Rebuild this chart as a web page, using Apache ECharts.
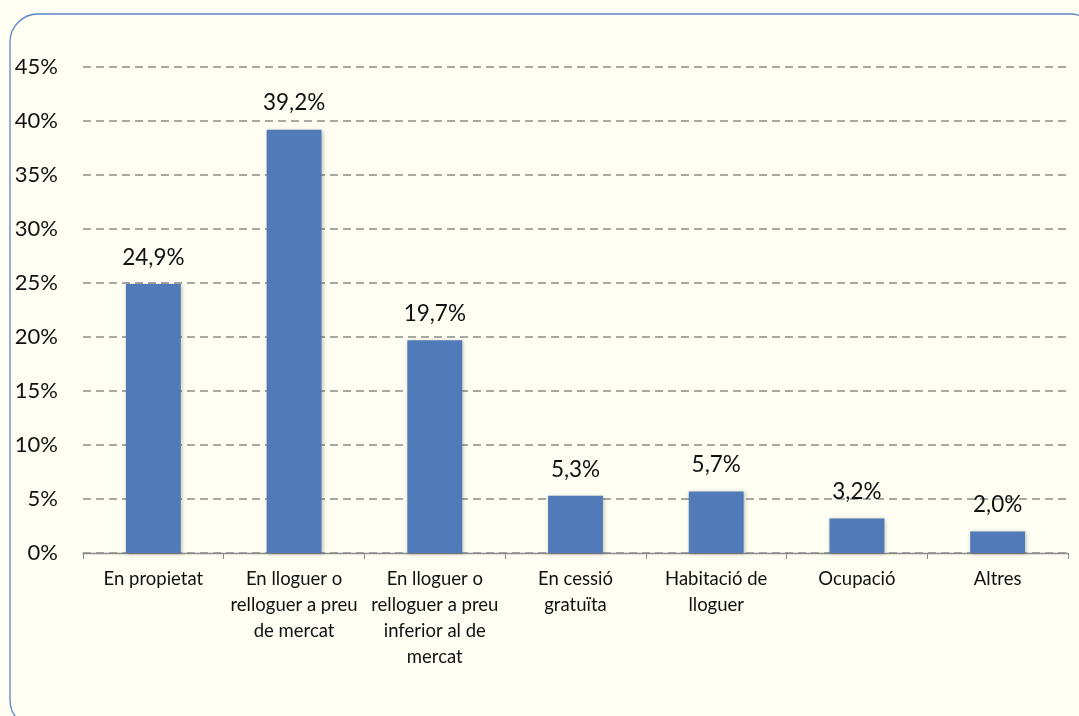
<!DOCTYPE html>
<html><head><meta charset="utf-8">
<script src="https://cdn.jsdelivr.net/npm/echarts@6/dist/echarts.min.js"></script>
<style>html,body{margin:0;padding:0;background:#FEFEF2}#c{width:1079px;height:716px}</style>
</head><body><div id="c"></div>
<script>
const categories = ['En propietat', 'En lloguer o\nrelloguer a preu\nde mercat', 'En lloguer o\nrelloguer a preu\ninferior al de\nmercat', 'En cessió\ngratuïta', 'Habitació de\nlloguer', 'Ocupació', 'Altres'];
const values = [24.9, 39.2, 19.7, 5.3, 5.7, 3.2, 2.0];
const yTicks = [0, 5, 10, 15, 20, 25, 30, 35, 40, 45];

const chart = echarts.init(document.getElementById('c'), null, {renderer: 'canvas'});
const font = 'Lato';
chart.setOption({
  backgroundColor: '#FEFEF2',
  animation: false,
  graphic: [{
    type: 'rect', z: -10, silent: true,
    shape: {x: 10, y: 14, width: 1088, height: 714, r: 28},
    style: {fill: '#FEFEF2', stroke: '#5B85C8', lineWidth: 1.3}
  }],
  grid: {left: 83, right: 11, top: 67, bottom: 163},
  xAxis: {
    type: 'category', data: categories,
    axisLine: {lineStyle: {color: '#8C8C8C', width: 1.3}},
    axisTick: {show: true, length: 6, lineStyle: {color: '#8C8C8C'}},
    axisLabel: {color: '#111', fontFamily: font, fontSize: 18.5, lineHeight: 26, margin: 13, interval: 0}
  },
  yAxis: {
    type: 'value', min: yTicks[0], max: yTicks[yTicks.length - 1], interval: 5,
    axisLine: {show: false}, axisTick: {show: false},
    axisLabel: {color: '#111', fontFamily: font, fontSize: 22, margin: 25, formatter: v => v + '%'},
    splitLine: {lineStyle: {color: '#8C8C8C', type: [8, 5], width: 1.5}}
  },
  series: [{
    type: 'bar', data: values, barWidth: '39%',
    itemStyle: {color: '#517BB8', shadowBlur: 4, shadowColor: 'rgba(0,0,0,0.25)', shadowOffsetX: 1, shadowOffsetY: 1},
    label: {show: true, position: 'top', distance: 15, color: '#111', fontFamily: font, fontSize: 22.5,
      formatter: p => p.value.toFixed(1).replace('.', ',') + '%'}
  }]
});
</script></body></html>
